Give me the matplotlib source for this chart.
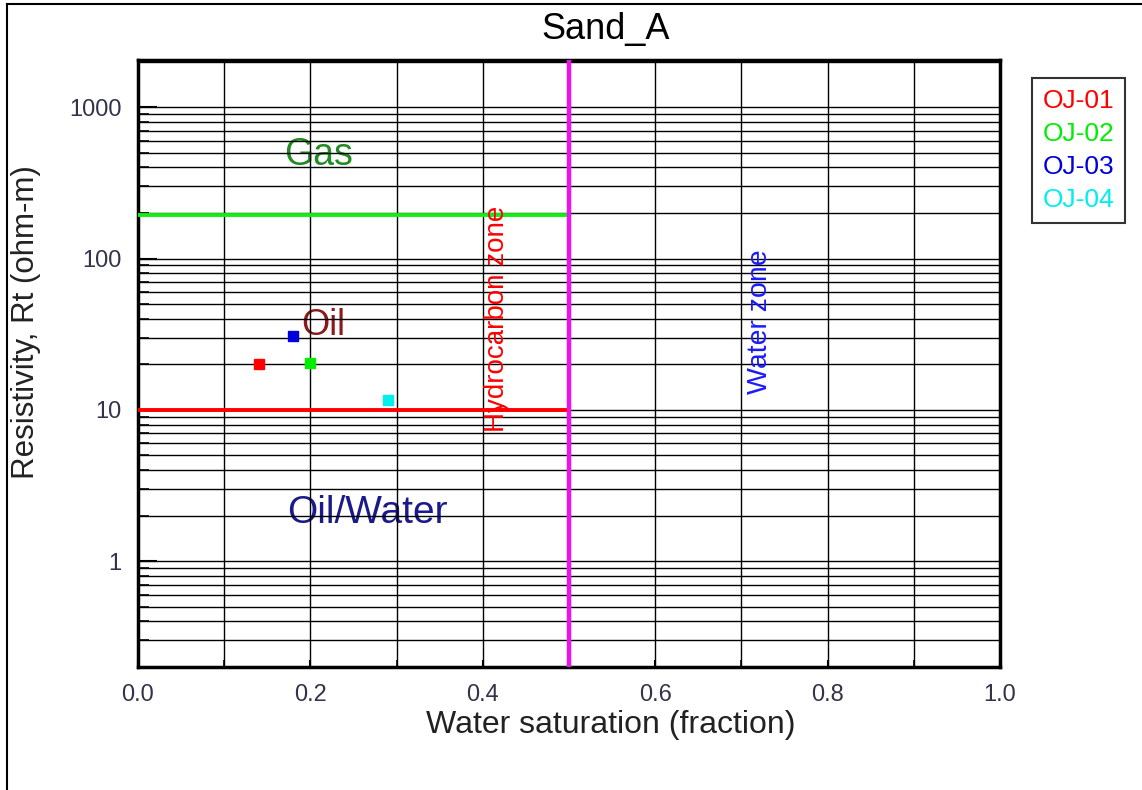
import numpy as np
import matplotlib as mpl
mpl.use('Agg')
import matplotlib.pyplot as plt
from matplotlib.lines import Line2D
from matplotlib.ticker import LogLocator, FixedLocator, NullFormatter

# well data
wells = ['OJ-01', 'OJ-02', 'OJ-03', 'OJ-04']
well_sw = [0.14, 0.20, 0.18, 0.29]
well_rt = [20.0, 20.5, 31.0, 11.6]
well_colors = ['#ff0000', '#00ee00', '#0000dd', '#00eeee']

# cutoffs
sw_cutoff = 0.5
gas_rt = 193.0
oil_rt = 10.0
cut_sw = [0.0, 0.5]

x_ticks = [0.0, 0.2, 0.4, 0.6, 0.8, 1.0]
x_tick_labels = ['0.0', '0.2', '0.4', '0.6', '0.8', '1.0']
y_ticks = [1, 10, 100, 1000]
y_tick_labels = ['1', '10', '100', '1000']

plt.rcParams['font.family'] = ['Liberation Sans', 'DejaVu Sans']

dpi = 100
fig = plt.figure(dpi=dpi, figsize=(1142 / dpi, 790 / dpi))
ax = fig.add_axes([138 / 1142, 1 - 667 / 790, 862 / 1142, 607 / 790])

ax.set_yscale('log')
ax.set_xlim(0, 1)
ax.set_ylim(0.2, 2050)

# grid
ax.xaxis.set_major_locator(FixedLocator(x_ticks))
ax.xaxis.set_minor_locator(FixedLocator(np.arange(0.1, 1.0, 0.2)))
ax.yaxis.set_major_locator(FixedLocator(y_ticks))
ax.yaxis.set_minor_locator(LogLocator(base=10, subs=np.arange(2, 10), numticks=20))
ax.yaxis.set_minor_formatter(NullFormatter())
ax.grid(True, which='both', color='black', linewidth=1.0, zorder=1)
ax.set_axisbelow(True)

ax.set_xticklabels(x_tick_labels)
ax.set_yticklabels(y_tick_labels)
ax.tick_params(which='major', direction='in', length=14, width=1.5,
               labelsize=17, labelcolor='#33334a', pad=12)
ax.tick_params(which='minor', direction='in', length=8, width=1.2)
ax.tick_params(axis='x', which='both', length=5)
for s in ax.spines.values():
    s.set_linewidth(2.5)

# cutoff lines
ax.plot(cut_sw, [gas_rt, gas_rt], color='#11ee11', lw=2.8, zorder=3)
ax.plot(cut_sw, [oil_rt, oil_rt], color='#ff0000', lw=2.8, zorder=3)
ax.axvline(sw_cutoff, color='#ee11ee', lw=3.2, zorder=4)

# zone labels
ax.text(0.21, 480, 'Gas', color='#228b22', fontsize=27, ha='center', va='center', zorder=0)
ax.text(0.215, 36, 'Oil', color='#8b1a1a', fontsize=26, ha='center', va='center', zorder=0)
ax.text(0.266, 2.08, 'Oil/Water', color='#1a1a8b', fontsize=28, ha='center', va='center', zorder=0)
ax.text(0.417, 40, 'Hydrocarbon zone', color='#ff0000', fontsize=20, rotation=90,
        ha='center', va='center', zorder=5)
ax.text(0.722, 38, 'Water zone', color='#1a1aff', fontsize=20.5, rotation=90,
        ha='center', va='center', zorder=5)

# wells
for name, sw, rt, c in zip(wells, well_sw, well_rt, well_colors):
    ax.plot(sw, rt, 's', color=c, markersize=7, zorder=6)

ax.set_title('Sand_A', fontsize=26, x=0.542, pad=15)
ax.set_xlabel('Water saturation (fraction)', fontsize=23, color='#222222')
ax.xaxis.set_label_coords(0.548, -0.071)
ax.set_ylabel('Resistivity, Rt (ohm-m)', fontsize=22.5, color='#222222')
ax.yaxis.set_label_coords(-0.113, 0.568)

handles = [Line2D([], [], linestyle='none') for _ in wells]
leg = fig.legend(handles, wells, loc='upper left',
                 bbox_to_anchor=(1032 / 1142, 1 - 78 / 790), borderaxespad=0,
                 handlelength=0, handletextpad=0, fontsize=19,
                 frameon=True, fancybox=False, borderpad=0.4, labelspacing=0.35)
leg.get_frame().set_edgecolor('black')
leg.get_frame().set_linewidth(1.5)
for t, c in zip(leg.get_texts(), well_colors):
    t.set_color(c)

# outer frame
fig.add_artist(Line2D([7 / 1142, 7 / 1142], [0, 1 - 4 / 790], color='black', lw=1.5,
                      transform=fig.transFigure))
fig.add_artist(Line2D([7 / 1142, 1], [1 - 4 / 790, 1 - 4 / 790], color='black', lw=1.5,
                      transform=fig.transFigure))

fig.savefig('out.png', dpi=dpi)
